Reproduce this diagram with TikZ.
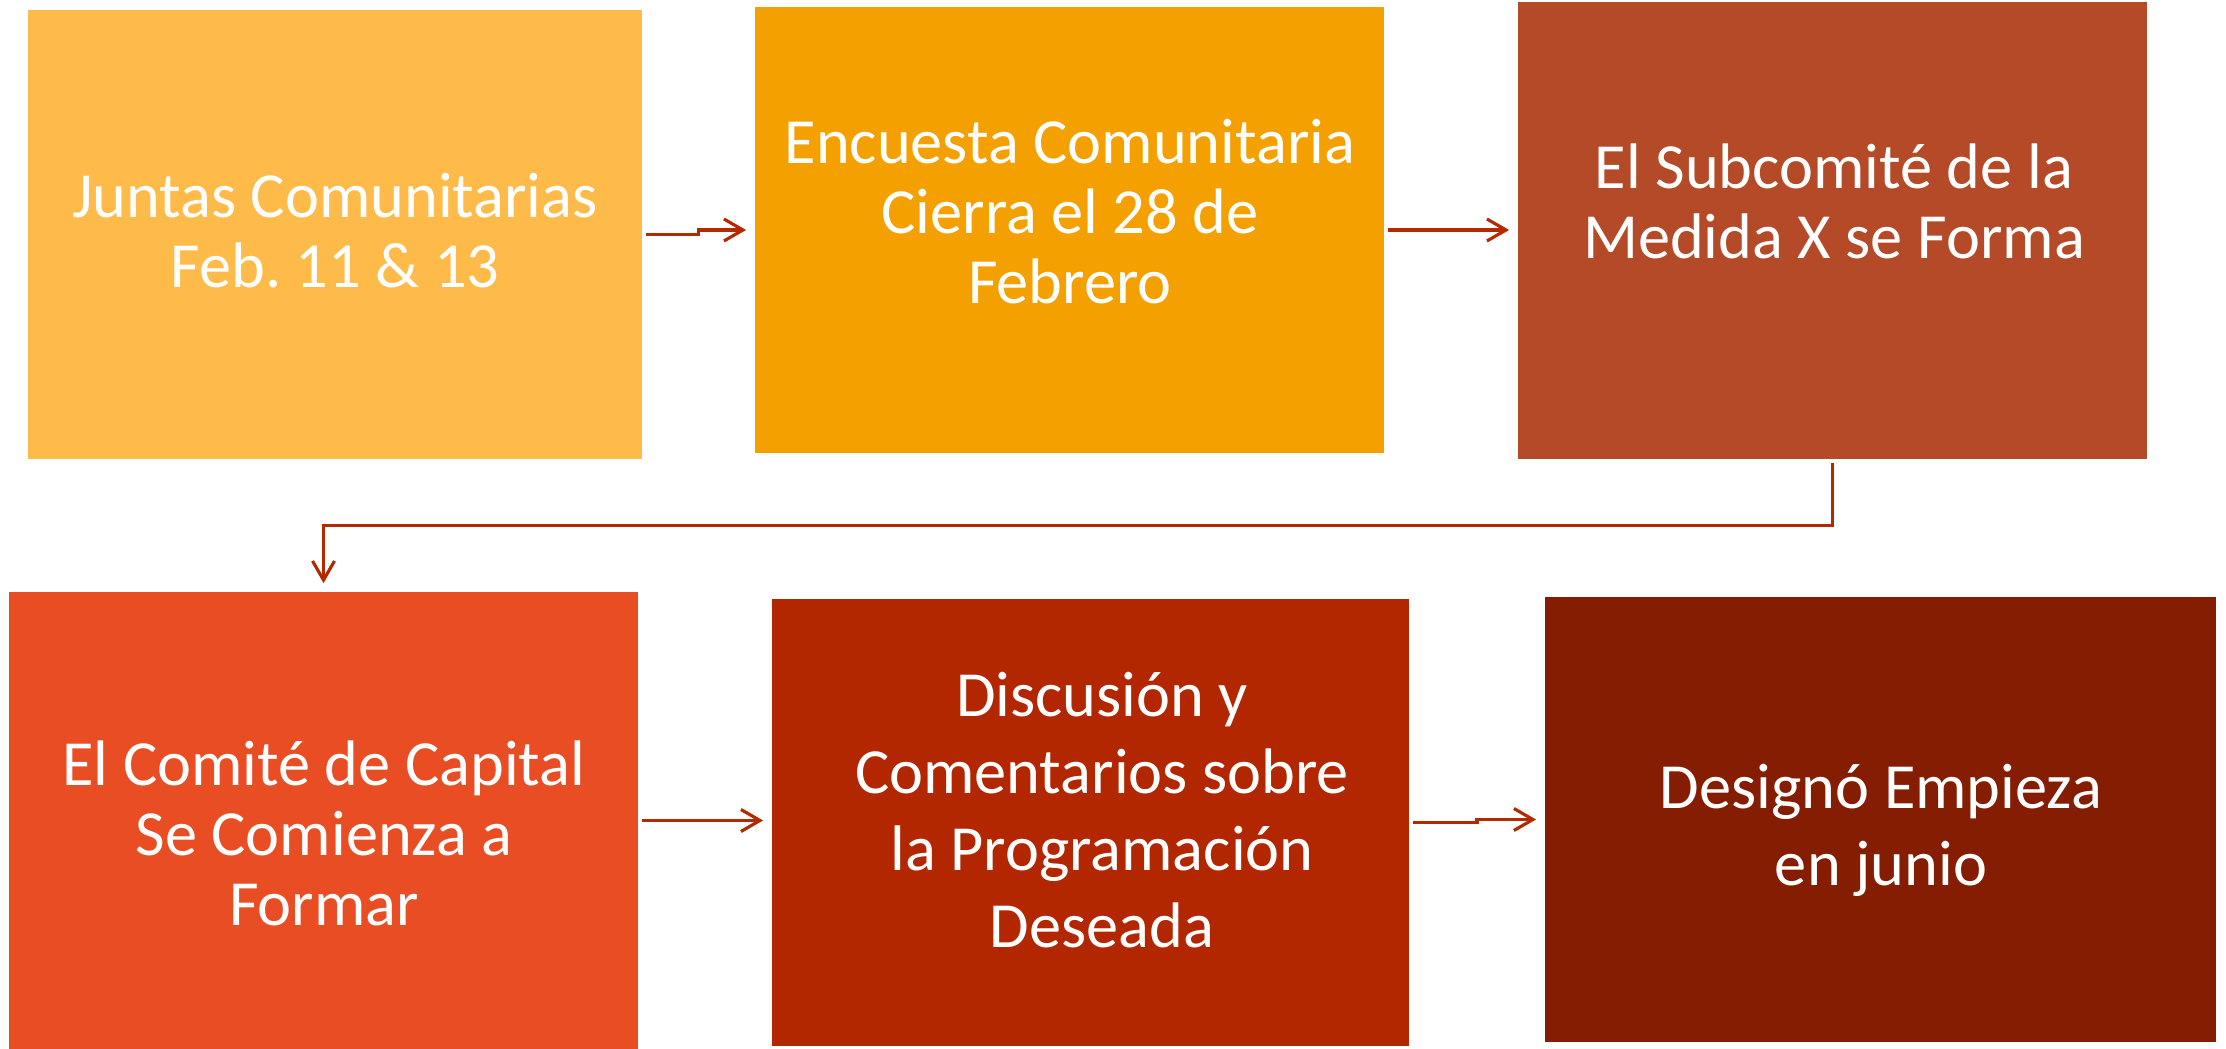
\documentclass[tikz,border=0pt]{standalone}
\usepackage{fontspec}
\setmainfont{Carlito}
\frenchspacing
\usetikzlibrary{arrows.meta,calc}
\definecolor{cA}{HTML}{FFBB4A}
\definecolor{cB}{HTML}{F4A000}
\definecolor{cC}{HTML}{B54A28}
\definecolor{cD}{HTML}{E84D24}
\definecolor{cE}{HTML}{B22600}
\definecolor{cF}{HTML}{851D02}
\definecolor{arrc}{HTML}{B42A00}
\tikzset{
  boxnode/.style={rectangle, inner sep=0pt, draw=none},
  txtnode/.style={anchor=north, inner sep=0pt, align=center, text=white},
  txtA/.style={txtnode, font=\fontsize{18.3pt}{19.9pt}\selectfont},
  txtB/.style={txtnode, font=\fontsize{18.3pt}{21.9pt}\selectfont},
  arr/.style={draw=arrc, line width=0.9pt, -{Straight Barb[length=0.19cm,width=0.22cm]}, shorten <=0.03cm, shorten >=0.08cm}
}
\newcommand{\fs}{\rule{0pt}{1em}}
\begin{document}
\begin{tikzpicture}[x=0.01cm,y=-0.01cm]
\useasboundingbox (0,0) rectangle (2226,1049);
\node[boxnode, fill=cA, minimum width=6.14cm, minimum height=4.49cm] (b1) at (335,234.5) {};
\node[boxnode, fill=cB, minimum width=6.29cm, minimum height=4.46cm] (b2) at (1069.5,230) {};
\node[boxnode, fill=cC, minimum width=6.29cm, minimum height=4.57cm] (b3) at (1832.5,230.5) {};
\node[boxnode, fill=cD, minimum width=6.29cm, minimum height=4.57cm] (b4) at (323.5,820.5) {};
\node[boxnode, fill=cE, minimum width=6.37cm, minimum height=4.47cm] (b5) at (1090.5,822.5) {};
\node[boxnode, fill=cF, minimum width=6.71cm, minimum height=4.45cm] (b6) at (1880.5,819.5) {};
% texts (north = first baseline - 1em)
\node[txtA] (t1) at (335,152.5) {\fs Juntas Comunitarias\\Feb. 11 \& 13};
\node[txtA] (t2) at (1070,98.5) {\fs Encuesta Comunitaria\\Cierra el 28 de\\Febrero};
\node[txtA] (t3) at (1834,123.5) {\fs El Subcomité de la\\Medida X se Forma};
\node[txtA] (t4) at (324,720.5) {\fs El Comité de Capital\\Se Comienza a\\Formar};
\node[txtB] (t5) at (1102,651.5) {\fs Discusión y\\Comentarios sobre\\la Programación\\Deseada};
\node[txtB] (t6) at (1881,743.5) {\fs Designó Empieza\\en junio};
% connectors
\coordinate (m1) at ($(b1.east)!0.5!(b2.west)$);
\draw[arr] (b1.east) -| (m1) |- (b2.west);
\draw[arr] (b2.east) -- (b2.east -| b3.west);
\draw[arr] (b3.south) -- ++(0,66) -| (b4.north);
\draw[arr] (b4.east) -- (b4.east -| b5.west);
\coordinate (m5) at ($(b5.east)!0.5!(b6.west)$);
\draw[arr] (b5.east) -| (m5) |- (b6.west);
\end{tikzpicture}
\end{document}
